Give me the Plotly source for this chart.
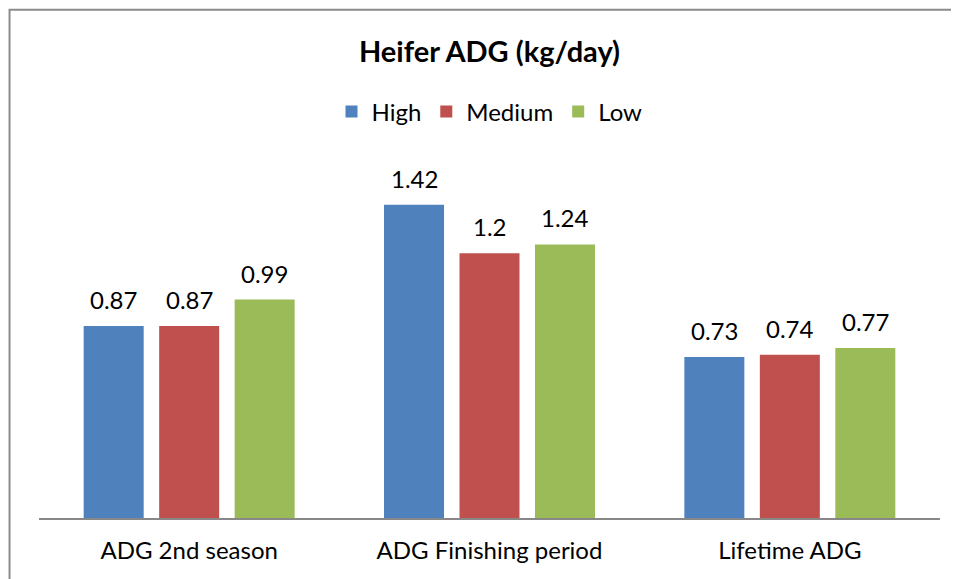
import plotly.graph_objects as go

categories = ["ADG 2nd season", "ADG Finishing period", "Lifetime ADG"]
series_names = ["High", "Medium", "Low"]
high = [0.87, 1.42, 0.73]
medium = [0.87, 1.2, 0.74]
low = [0.99, 1.24, 0.77]
colors = ["#4F81BD", "#C0504D", "#9BBB59"]

FONT = "Lato"
BARGAP = 0.246
GROUPGAP = 0.205
all_series = [high, medium, low]

fig = go.Figure()
for name, vals, col in zip(series_names, all_series, colors):
    fig.add_trace(go.Bar(
        x=categories, y=vals, name=name, marker_color=col,
        marker_line_width=0,
    ))

# value labels above bars, placed via axis coordinates
slot = (1 - BARGAP) / len(all_series)
for j, vals in enumerate(all_series):
    off = (j - (len(all_series) - 1) / 2) * slot
    for i, v in enumerate(vals):
        fig.add_annotation(x=i + off, y=v, xref="x", yref="y", text=f"{v:g}",
                           showarrow=False, yanchor="bottom", yshift=10,
                           font=dict(size=24, color="black", family=FONT))

fig.update_layout(
    width=951, height=571,
    margin=dict(l=31, r=19, t=157, b=61),
    paper_bgcolor="white", plot_bgcolor="white",
    barmode="group", bargap=BARGAP, bargroupgap=GROUPGAP,
    font=dict(family=FONT, size=24, color="black"),
    title=dict(text="<b>Heifer ADG (kg/day)</b>", x=0.5, xref="paper",
               y=0.923, yanchor="middle", font=dict(size=29, family=FONT)),
    legend=dict(orientation="h", x=0.5, xanchor="center", y=0.818, yref="container",
                yanchor="middle", font=dict(size=24, family=FONT),
                itemwidth=30, traceorder="normal"),
    showlegend=True,
)
fig.update_yaxes(range=[0, 1.6], visible=False, showgrid=False, zeroline=False)
fig.update_xaxes(showline=True, linecolor="#888888", linewidth=2, ticks="",
                 tickfont=dict(size=24, family=FONT), showgrid=False,
                 ticklabelstandoff=10)

fig.add_shape(type="rect", xref="paper", yref="paper",
              x0=-0.0327, x1=1.2, y0=-0.5, y1=1.44,
              line=dict(color="#8C8C8C", width=2), fillcolor="rgba(0,0,0,0)", layer="below")

fig.write_html("out.html")
